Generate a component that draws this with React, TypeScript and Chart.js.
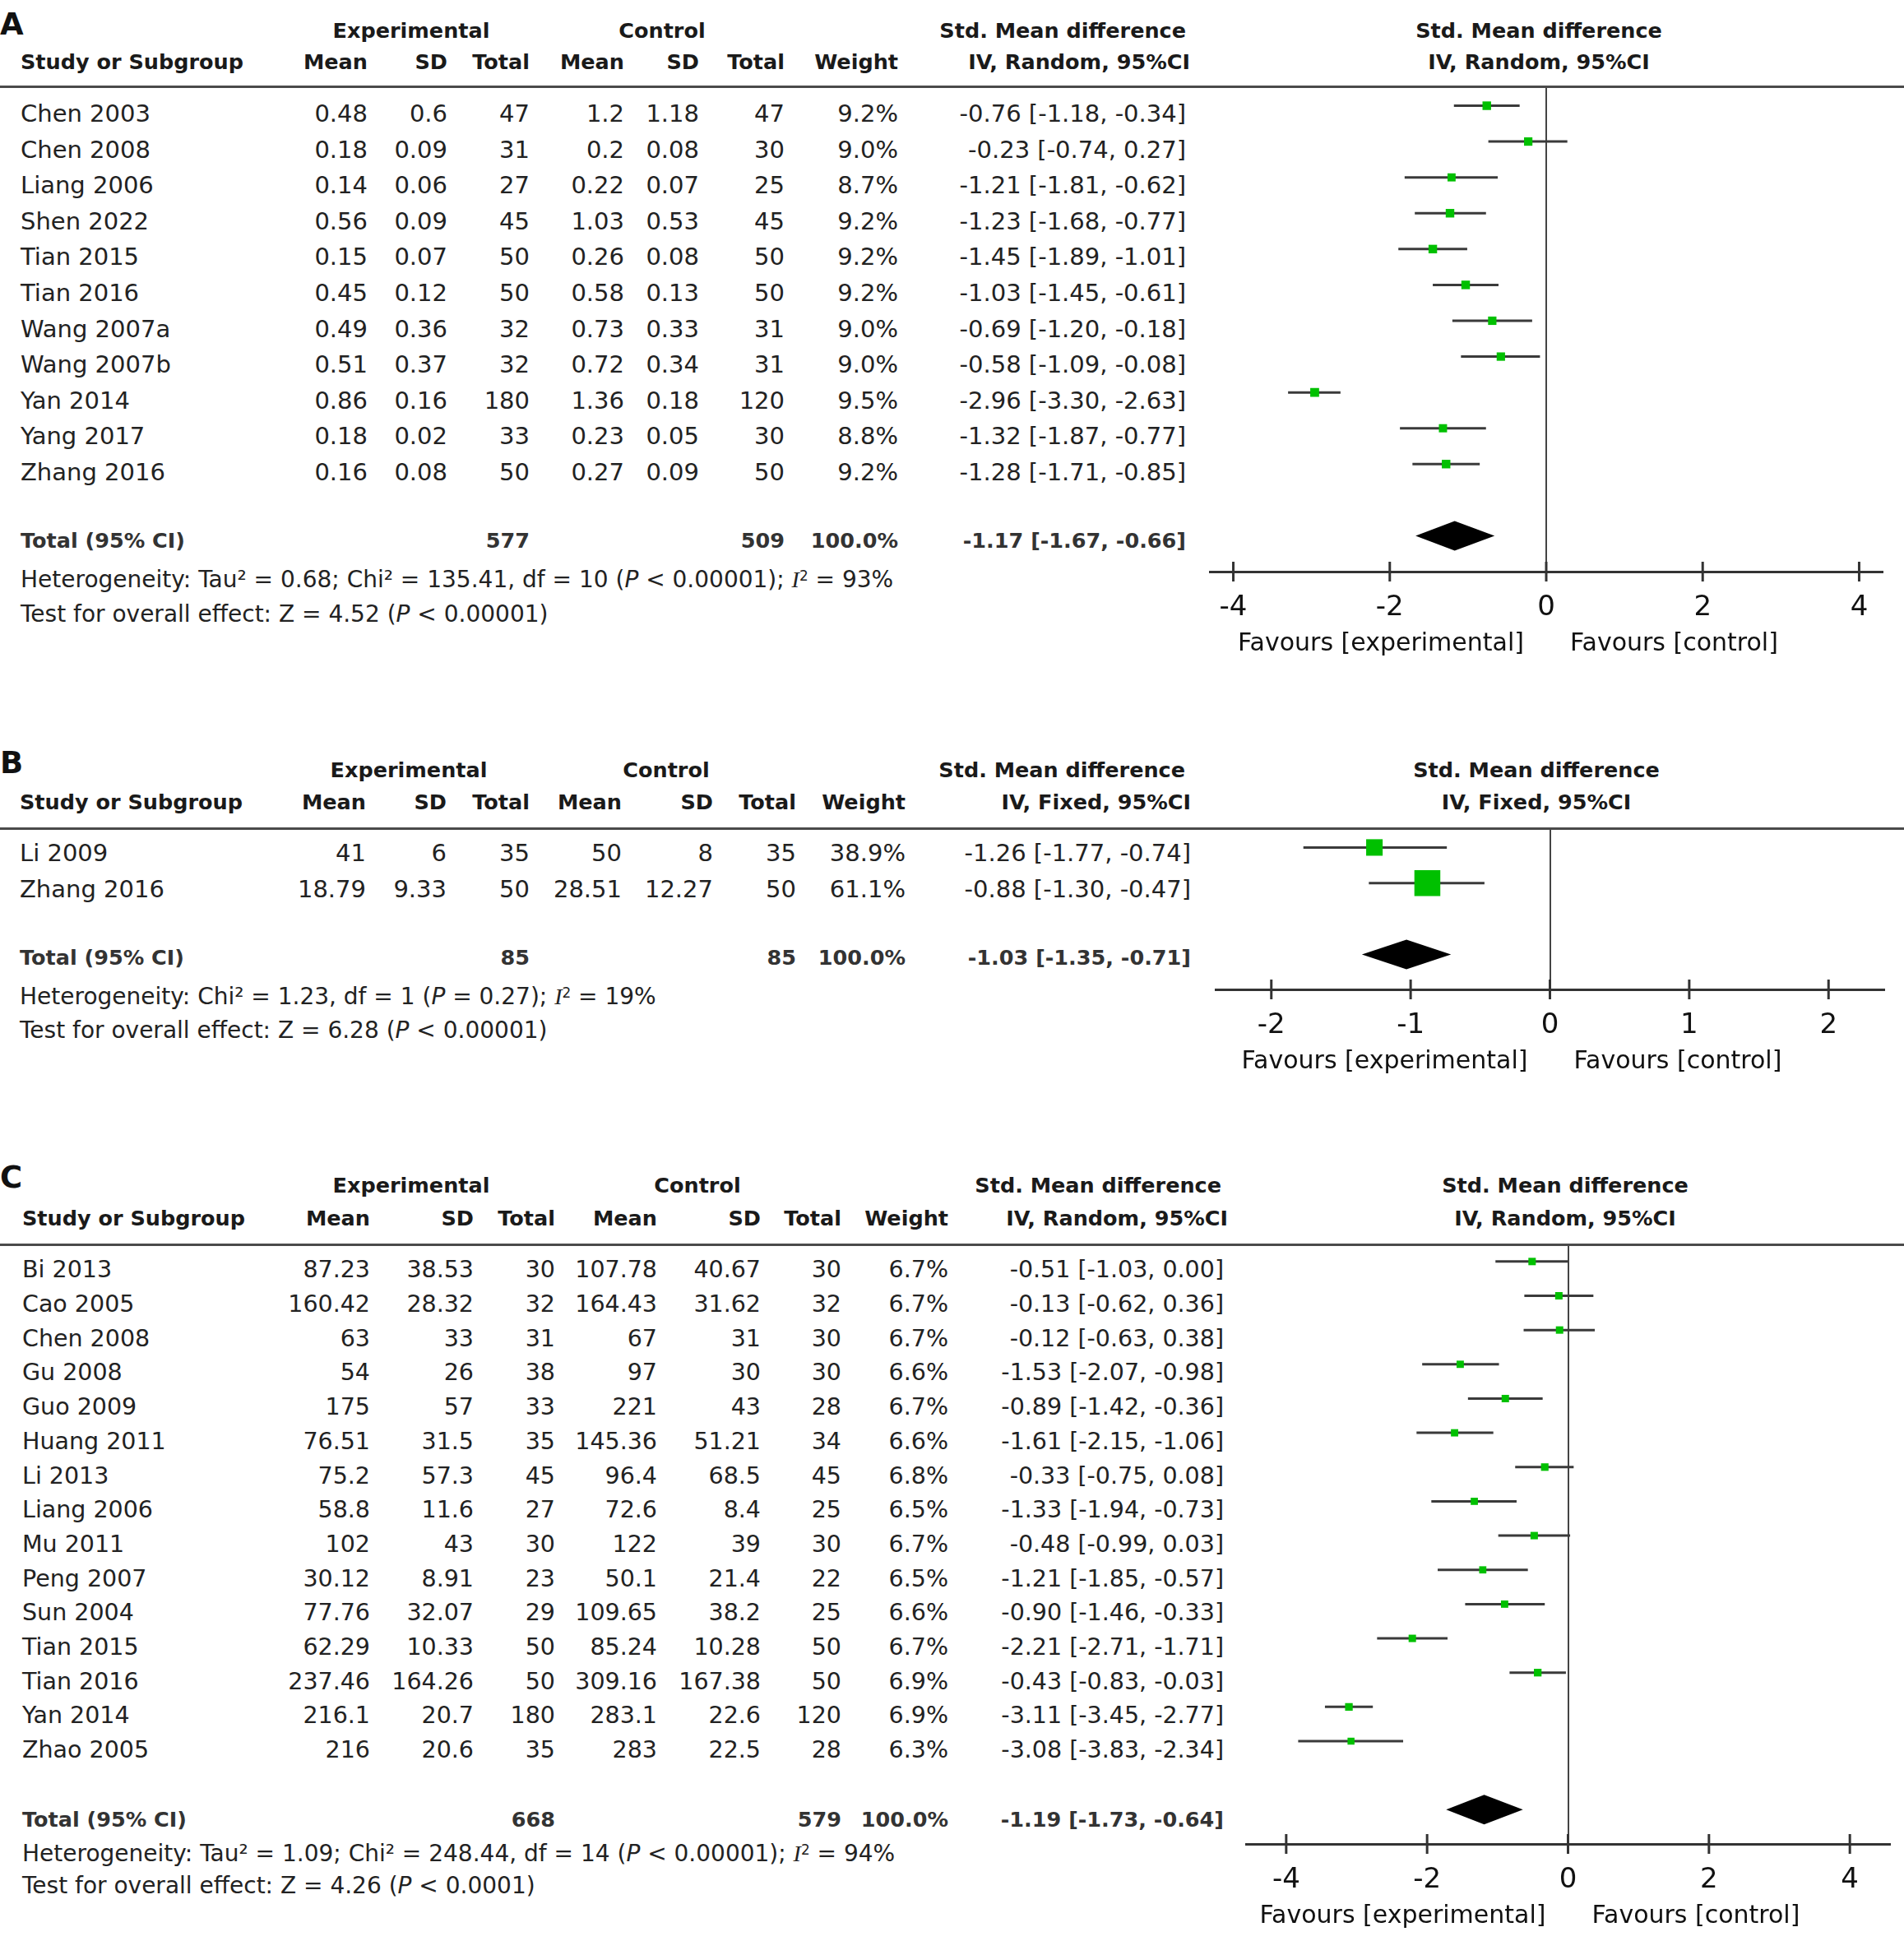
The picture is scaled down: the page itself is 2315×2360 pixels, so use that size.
import React, { useEffect, useRef } from "react";
import { Chart, registerables } from "chart.js";

Chart.register(...registerables);

// ---------------- Panel A data ----------------
const studiesA = ["Chen 2003", "Chen 2008", "Liang 2006", "Shen 2022", "Tian 2015", "Tian 2016", "Wang 2007a", "Wang 2007b", "Yan 2014", "Yang 2017", "Zhang 2016"];
const expMeanA = [0.48, 0.18, 0.14, 0.56, 0.15, 0.45, 0.49, 0.51, 0.86, 0.18, 0.16];
const expSdA = [0.6, 0.09, 0.06, 0.09, 0.07, 0.12, 0.36, 0.37, 0.16, 0.02, 0.08];
const expTotalA = [47, 31, 27, 45, 50, 50, 32, 32, 180, 33, 50];
const ctlMeanA = [1.2, 0.2, 0.22, 1.03, 0.26, 0.58, 0.73, 0.72, 1.36, 0.23, 0.27];
const ctlSdA = [1.18, 0.08, 0.07, 0.53, 0.08, 0.13, 0.33, 0.34, 0.18, 0.05, 0.09];
const ctlTotalA = [47, 30, 25, 45, 50, 50, 31, 31, 120, 30, 50];
const weightA = [9.2, 9.0, 8.7, 9.2, 9.2, 9.2, 9.0, 9.0, 9.5, 8.8, 9.2];
const smdA = [-0.76, -0.23, -1.21, -1.23, -1.45, -1.03, -0.69, -0.58, -2.96, -1.32, -1.28];
const lowA = [-1.18, -0.74, -1.81, -1.68, -1.89, -1.45, -1.2, -1.09, -3.3, -1.87, -1.71];
const highA = [-0.34, 0.27, -0.62, -0.77, -1.01, -0.61, -0.18, -0.08, -2.63, -0.77, -0.85];
const sumsA = [577, 509];
const pooledA = [-1.17, -1.67, -0.66];
const hetA = { tau2: "0.68", chi2: "135.41", df: 10, p: "< 0.00001", i2: 93 };
const effectA = { z: "4.52", p: "< 0.00001" };
const ticksA = [-4, -2, 0, 2, 4];

// ---------------- Panel B data ----------------
const studiesB = ["Li 2009", "Zhang 2016"];
const expMeanB = [41, 18.79];
const expSdB = [6, 9.33];
const expTotalB = [35, 50];
const ctlMeanB = [50, 28.51];
const ctlSdB = [8, 12.27];
const ctlTotalB = [35, 50];
const weightB = [38.9, 61.1];
const smdB = [-1.26, -0.88];
const lowB = [-1.77, -1.3];
const highB = [-0.74, -0.47];
const sumsB = [85, 85];
const pooledB = [-1.03, -1.35, -0.71];
const hetB = { tau2: null as string | null, chi2: "1.23", df: 1, p: "= 0.27", i2: 19 };
const effectB = { z: "6.28", p: "< 0.00001" };
const ticksB = [-2, -1, 0, 1, 2];

// ---------------- Panel C data ----------------
const studiesC = ["Bi 2013", "Cao 2005", "Chen 2008", "Gu 2008", "Guo 2009", "Huang 2011", "Li 2013", "Liang 2006", "Mu 2011", "Peng 2007", "Sun 2004", "Tian 2015", "Tian 2016", "Yan 2014", "Zhao 2005"];
const expMeanC = [87.23, 160.42, 63, 54, 175, 76.51, 75.2, 58.8, 102, 30.12, 77.76, 62.29, 237.46, 216.1, 216];
const expSdC = [38.53, 28.32, 33, 26, 57, 31.5, 57.3, 11.6, 43, 8.91, 32.07, 10.33, 164.26, 20.7, 20.6];
const expTotalC = [30, 32, 31, 38, 33, 35, 45, 27, 30, 23, 29, 50, 50, 180, 35];
const ctlMeanC = [107.78, 164.43, 67, 97, 221, 145.36, 96.4, 72.6, 122, 50.1, 109.65, 85.24, 309.16, 283.1, 283];
const ctlSdC = [40.67, 31.62, 31, 30, 43, 51.21, 68.5, 8.4, 39, 21.4, 38.2, 10.28, 167.38, 22.6, 22.5];
const ctlTotalC = [30, 32, 30, 30, 28, 34, 45, 25, 30, 22, 25, 50, 50, 120, 28];
const weightC = [6.7, 6.7, 6.7, 6.6, 6.7, 6.6, 6.8, 6.5, 6.7, 6.5, 6.6, 6.7, 6.9, 6.9, 6.3];
const smdC = [-0.51, -0.13, -0.12, -1.53, -0.89, -1.61, -0.33, -1.33, -0.48, -1.21, -0.9, -2.21, -0.43, -3.11, -3.08];
const lowC = [-1.03, -0.62, -0.63, -2.07, -1.42, -2.15, -0.75, -1.94, -0.99, -1.85, -1.46, -2.71, -0.83, -3.45, -3.83];
const highC = [0.0, 0.36, 0.38, -0.98, -0.36, -1.06, 0.08, -0.73, 0.03, -0.57, -0.33, -1.71, -0.03, -2.77, -2.34];
const sumsC = [668, 579];
const pooledC = [-1.19, -1.73, -0.64];
const hetC = { tau2: "1.09", chi2: "248.44", df: 14, p: "< 0.00001", i2: 94 };
const effectC = { z: "4.26", p: "< 0.0001" };
const ticksC = [-4, -2, 0, 2, 4];

const colHeads = ["Mean", "SD", "Total", "Mean", "SD", "Total", "Weight"];

// ---------------- layout ----------------
const W = 2315;
const H = 2360;
const FONT = '"DejaVu Sans", Verdana, sans-serif';
const CANVAS_LEFT = 1440;
const CANVAS_W = W - CANVAS_LEFT;
const AXIS_EXTRA = 120;

type PanelData = {
  letter: string; method: string;
  studies: string[]; expMean: number[]; expSd: number[]; expTotal: number[];
  ctlMean: number[]; ctlSd: number[]; ctlTotal: number[]; weight: number[];
  smd: number[]; low: number[]; high: number[]; sums: number[]; pooled: number[];
  het: { tau2: string | null; chi2: string; df: number; p: string; i2: number };
  effect: { z: string; p: string }; ticks: number[];
};

type Layout = {
  letterY: number; h1Y: number; h2Y: number; lineY: number; row0Y: number; rowStep: number;
  totalY: number; hetY: number; testY: number; studyX: number; cols: number[]; ciX: number;
  ciH1X: number; ciH2X: number; expX: number; ctlX: number; plotHeadX: number;
  plotLeft: number; plotRight: number; axisY: number; yMin: number; yMax: number;
  xMin: number; xMax: number; markerScale: number; bodySize: number;
};

const panelA: PanelData = { letter: "A", method: "IV, Random, 95%CI", studies: studiesA, expMean: expMeanA, expSd: expSdA, expTotal: expTotalA, ctlMean: ctlMeanA, ctlSd: ctlSdA, ctlTotal: ctlTotalA, weight: weightA, smd: smdA, low: lowA, high: highA, sums: sumsA, pooled: pooledA, het: hetA, effect: effectA, ticks: ticksA };
const panelB: PanelData = { letter: "B", method: "IV, Fixed, 95%CI", studies: studiesB, expMean: expMeanB, expSd: expSdB, expTotal: expTotalB, ctlMean: ctlMeanB, ctlSd: ctlSdB, ctlTotal: ctlTotalB, weight: weightB, smd: smdB, low: lowB, high: highB, sums: sumsB, pooled: pooledB, het: hetB, effect: effectB, ticks: ticksB };
const panelC: PanelData = { letter: "C", method: "IV, Random, 95%CI", studies: studiesC, expMean: expMeanC, expSd: expSdC, expTotal: expTotalC, ctlMean: ctlMeanC, ctlSd: ctlSdC, ctlTotal: ctlTotalC, weight: weightC, smd: smdC, low: lowC, high: highC, sums: sumsC, pooled: pooledC, het: hetC, effect: effectC, ticks: ticksC };

const layoutA: Layout = { letterY: 29, h1Y: 37.5, h2Y: 75, lineY: 105, row0Y: 138, rowStep: 43.6, totalY: 657, hetY: 704, testY: 746, studyX: 25, cols: [447, 544, 644, 759, 850, 954, 1092], ciX: 1442, ciH1X: 1442, ciH2X: 1447, expX: 500, ctlX: 805, plotHeadX: 1871, plotLeft: 1471, plotRight: 2289, axisY: 695, yMin: -0.54, yMax: 13.0, xMin: -4.3, xMax: 4.3, markerScale: 0.8, bodySize: 29 };
const layoutB: Layout = { letterY: 927, h1Y: 936, h2Y: 975, lineY: 1007, row0Y: 1037, rowStep: 44, totalY: 1164, hetY: 1211, testY: 1252, studyX: 24, cols: [445, 543, 644, 756, 867, 968, 1101], ciX: 1448, ciH1X: 1441, ciH2X: 1448, expX: 497, ctlX: 810, plotHeadX: 1868, plotLeft: 1478, plotRight: 2291, axisY: 1203, yMin: -0.54, yMax: 3.98, xMin: -2.4, xMax: 2.4, markerScale: 0.365, bodySize: 29 };
const layoutC: Layout = { letterY: 1431, h1Y: 1441, h2Y: 1481, lineY: 1513, row0Y: 1544, rowStep: 41.7, totalY: 2212, hetY: 2253, testY: 2292, studyX: 27, cols: [450, 576, 675, 799, 925, 1023, 1153], ciX: 1488, ciH1X: 1485, ciH2X: 1493, expX: 500, ctlX: 848, plotHeadX: 1903, plotLeft: 1515, plotRight: 2298, axisY: 2242, yMin: -0.5, yMax: 17.0, xMin: -4.57, xMax: 4.57, markerScale: 0.95, bodySize: 28.5 };

function Txt(props: { x: number; y: number; size: number; bold?: boolean; align?: "left" | "right" | "center"; color?: string; children: React.ReactNode }) {
  const { x, y, size, bold, align = "left", color = "#222", children } = props;
  const style: React.CSSProperties = {
    position: "absolute",
    top: y - 0.48 * size,
    fontFamily: FONT,
    fontSize: size,
    lineHeight: `${size}px`,
    fontWeight: bold ? 700 : 400,
    color,
    whiteSpace: "nowrap",
  };
  if (align === "left") style.left = x;
  else if (align === "right") style.right = W - x;
  else {
    style.left = x - 400;
    style.width = 800;
    style.textAlign = "center";
  }
  return <div style={style}>{children}</div>;
}

const ItalicP = () => <i>P</i>;
const I2 = () => (
  <span>
    <i style={{ fontFamily: '"Liberation Serif", serif' }}>I</i>
    <span style={{ position: "relative", top: "-0.45em", fontSize: "0.6em", lineHeight: 0 }}>2</span>
  </span>
);

function fmtCI(v: number, lo: number, hi: number) {
  return `${v.toFixed(2)} [${lo.toFixed(2)}, ${hi.toFixed(2)}]`;
}

function Panel({ d, L }: { d: PanelData; L: Layout }) {
  const ref = useRef<HTMLCanvasElement>(null);
  const canvasH = L.axisY - L.lineY + AXIS_EXTRA;

  useEffect(() => {
    if (!ref.current) return;
    const n = d.studies.length;
    const totalRow = n + 1;
    const forest = {
      id: "forest",
      beforeDatasetsDraw(chart: any) {
        const { ctx } = chart;
        const x = chart.scales.x;
        const y = chart.scales.y;
        ctx.save();
        ctx.strokeStyle = "#3a3a3a";
        ctx.lineWidth = 3;
        d.low.forEach((lo, i) => {
          const py = y.getPixelForValue(i);
          ctx.beginPath();
          ctx.moveTo(x.getPixelForValue(lo), py);
          ctx.lineTo(x.getPixelForValue(d.high[i]), py);
          ctx.stroke();
        });
        ctx.restore();
      },
      afterDatasetsDraw(chart: any) {
        const { ctx } = chart;
        const x = chart.scales.x;
        const y = chart.scales.y;
        const [est, lo, hi] = d.pooled;
        const py = y.getPixelForValue(totalRow);
        ctx.save();
        ctx.fillStyle = "#000";
        ctx.beginPath();
        ctx.moveTo(x.getPixelForValue(lo), py);
        ctx.lineTo(x.getPixelForValue(est), py - 18);
        ctx.lineTo(x.getPixelForValue(hi), py);
        ctx.lineTo(x.getPixelForValue(est), py + 18);
        ctx.closePath();
        ctx.fill();
        ctx.restore();
      },
      afterDraw(chart: any) {
        const { ctx } = chart;
        const x = chart.scales.x;
        const axisY = chart.chartArea.bottom;
        ctx.save();
        ctx.strokeStyle = "#333";
        ctx.lineWidth = 3;
        x.ticks.forEach((t: any) => {
          const px = x.getPixelForValue(t.value);
          ctx.beginPath();
          ctx.moveTo(px, axisY - 12);
          ctx.lineTo(px, axisY + 12);
          ctx.stroke();
        });
        const zero = x.getPixelForValue(0);
        ctx.font = `30px ${FONT}`;
        ctx.fillStyle = "#111";
        ctx.textBaseline = "middle";
        ctx.textAlign = "right";
        ctx.fillText("Favours [experimental]", zero - 27, axisY + 88);
        ctx.textAlign = "left";
        ctx.fillText("Favours [control]", zero + 29, axisY + 88);
        ctx.restore();
      },
    };

    const chart = new Chart(ref.current, {
      type: "scatter",
      data: {
        datasets: [
          {
            data: d.smd.map((v, i) => ({ x: v, y: i })),
            pointStyle: "rect",
            pointRadius: d.weight.map((w) => w * L.markerScale),
            pointHoverRadius: d.weight.map((w) => w * L.markerScale),
            backgroundColor: "#00c000",
            borderWidth: 0,
          },
        ],
      },
      options: {
        responsive: false,
        animation: false,
        events: [],
        layout: {
          autoPadding: false,
          padding: { left: L.plotLeft - CANVAS_LEFT, right: CANVAS_LEFT + CANVAS_W - L.plotRight, top: 0, bottom: 0 },
        },
        plugins: { legend: { display: false }, tooltip: { enabled: false } },
        scales: {
          x: {
            type: "linear",
            min: L.xMin,
            max: L.xMax,
            afterBuildTicks: (s: any) => {
              s.ticks = d.ticks.map((v) => ({ value: v }));
            },
            afterFit: (s: any) => {
              s.height = AXIS_EXTRA;
            },
            ticks: {
              padding: 24,
              color: "#111",
              font: { size: 34, family: FONT },
              callback: (v: any) => String(v),
            },
            grid: {
              drawTicks: false,
              lineWidth: 2,
              color: (c: any) => (c.tick && c.tick.value === 0 ? "#444" : "rgba(0,0,0,0)"),
            },
            border: { display: true, color: "#333", width: 3 },
          },
          y: { type: "linear", reverse: true, min: L.yMin, max: L.yMax, display: false },
        },
      } as any,
      plugins: [forest],
    });
    return () => chart.destroy();
  }, [d, L]);

  const hs = 25.5;
  const bs = L.bodySize;
  const rowY = (i: number) => L.row0Y + i * L.rowStep;

  return (
    <>
      <Txt x={0} y={L.letterY} size={37} bold color="#111">{d.letter}</Txt>
      <Txt x={L.expX} y={L.h1Y} size={hs} bold align="center" color="#1a1a1a">Experimental</Txt>
      <Txt x={L.ctlX} y={L.h1Y} size={hs} bold align="center" color="#1a1a1a">Control</Txt>
      <Txt x={L.ciH1X} y={L.h1Y} size={hs} bold align="right" color="#1a1a1a">Std. Mean difference</Txt>
      <Txt x={L.plotHeadX} y={L.h1Y} size={hs} bold align="center" color="#1a1a1a">Std. Mean difference</Txt>
      <Txt x={L.studyX} y={L.h2Y} size={hs} bold color="#1a1a1a">Study or Subgroup</Txt>
      {colHeads.map((h, j) => (
        <Txt key={"h" + j} x={L.cols[j]} y={L.h2Y} size={hs} bold align="right" color="#1a1a1a">{h}</Txt>
      ))}
      <Txt x={L.ciH2X} y={L.h2Y} size={hs} bold align="right" color="#1a1a1a">{d.method}</Txt>
      <Txt x={L.plotHeadX} y={L.h2Y} size={hs} bold align="center" color="#1a1a1a">{d.method}</Txt>
      <div style={{ position: "absolute", left: 0, top: L.lineY - 1.5, width: W, height: 3, background: "#4a4a4a", zIndex: 2 }} />

      {d.studies.map((s, i) => {
        const vals = [
          String(d.expMean[i]), String(d.expSd[i]), String(d.expTotal[i]),
          String(d.ctlMean[i]), String(d.ctlSd[i]), String(d.ctlTotal[i]),
          `${d.weight[i].toFixed(1)}%`,
        ];
        return (
          <React.Fragment key={"r" + i}>
            <Txt x={L.studyX} y={rowY(i)} size={bs}>{s}</Txt>
            {vals.map((v, j) => (
              <Txt key={"c" + j} x={L.cols[j]} y={rowY(i)} size={bs} align="right">{v}</Txt>
            ))}
            <Txt x={L.ciX} y={rowY(i)} size={bs} align="right">{fmtCI(d.smd[i], d.low[i], d.high[i])}</Txt>
          </React.Fragment>
        );
      })}

      <Txt x={L.studyX} y={L.totalY} size={hs} bold color="#333">Total (95% CI)</Txt>
      <Txt x={L.cols[2]} y={L.totalY} size={hs} bold align="right" color="#333">{String(d.sums[0])}</Txt>
      <Txt x={L.cols[5]} y={L.totalY} size={hs} bold align="right" color="#333">{String(d.sums[1])}</Txt>
      <Txt x={L.cols[6]} y={L.totalY} size={hs} bold align="right" color="#333">100.0%</Txt>
      <Txt x={L.ciX} y={L.totalY} size={hs} bold align="right" color="#333">{fmtCI(d.pooled[0], d.pooled[1], d.pooled[2])}</Txt>

      <Txt x={L.studyX} y={L.hetY} size={28}>
        Heterogeneity: {d.het.tau2 !== null ? `Tau² = ${d.het.tau2}; ` : ""}Chi² = {d.het.chi2}, df = {d.het.df} (<ItalicP /> {d.het.p}); <I2 /> = {d.het.i2}%
      </Txt>
      <Txt x={L.studyX} y={L.testY} size={28}>
        Test for overall effect: Z = {d.effect.z} (<ItalicP /> {d.effect.p})
      </Txt>

      <canvas
        ref={ref}
        width={CANVAS_W}
        height={canvasH}
        style={{ position: "absolute", left: CANVAS_LEFT, top: L.lineY, width: CANVAS_W, height: canvasH, zIndex: 1 }}
      />
    </>
  );
}

export default function App() {
  return (
    <div style={{ position: "absolute", left: 0, top: 0, width: W, height: H, background: "#fff", overflow: "hidden" }}>
      <Panel d={panelA} L={layoutA} />
      <Panel d={panelB} L={layoutB} />
      <Panel d={panelC} L={layoutC} />
    </div>
  );
}
